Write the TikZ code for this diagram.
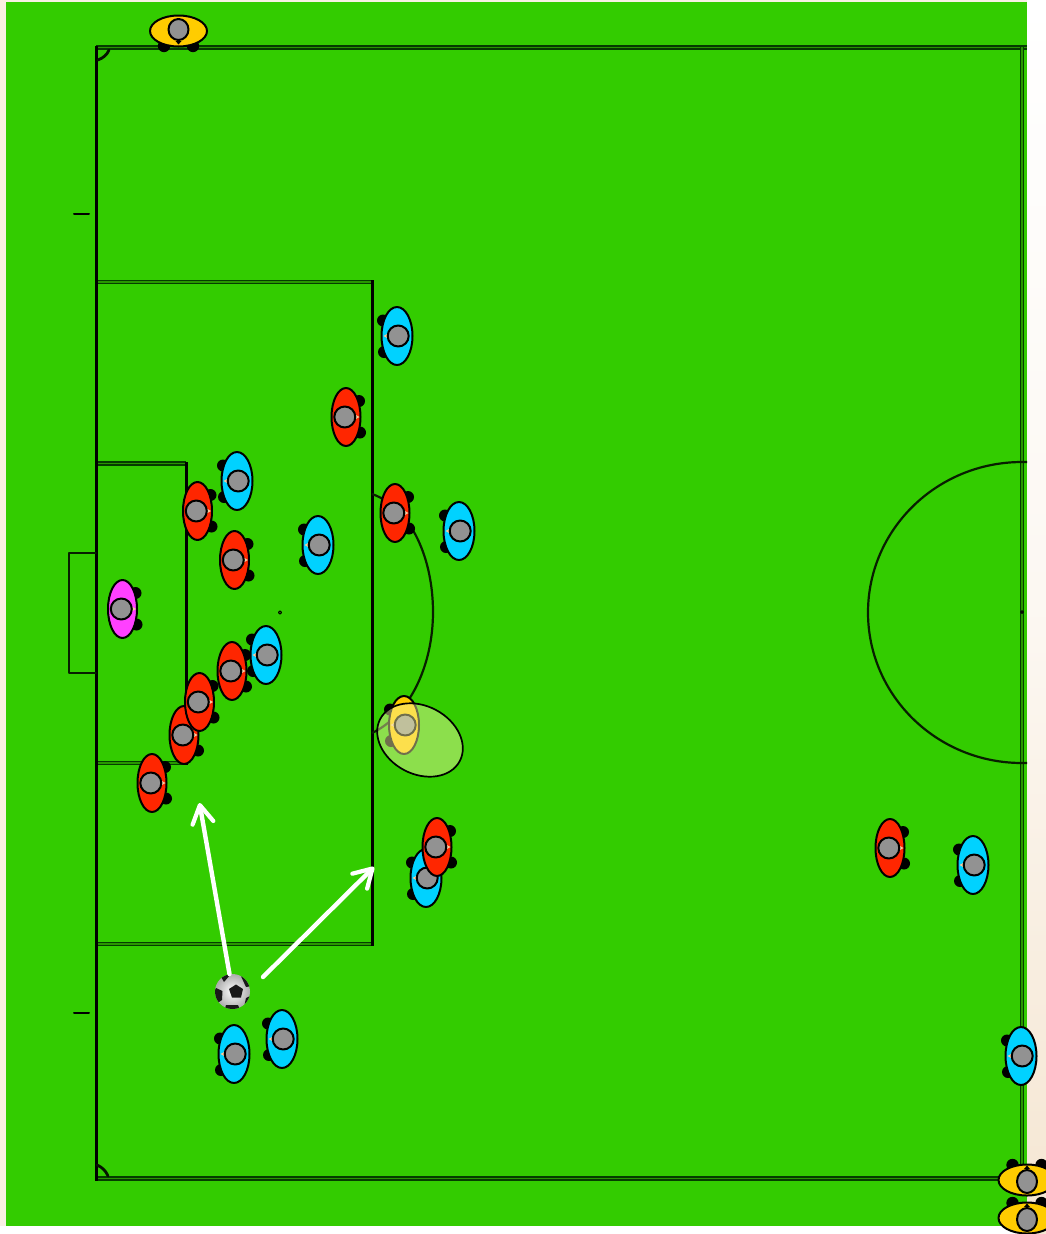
\documentclass[tikz,border=0pt]{standalone}
\usetikzlibrary{arrows.meta}
\definecolor{pitch}{RGB}{51,204,0}
\definecolor{lineout}{RGB}{5,60,0}
\definecolor{linein}{RGB}{40,150,0}
\definecolor{kitred}{RGB}{255,38,0}
\definecolor{kitblue}{RGB}{0,210,255}
\definecolor{kitpink}{RGB}{255,64,255}
\definecolor{kityellow}{RGB}{255,204,0}
\definecolor{head}{RGB}{146,146,146}
\definecolor{cream}{RGB}{245,230,210}
\definecolor{glow}{RGB}{249,248,169}
\definecolor{tick}{RGB}{250,205,160}
\tikzset{
  markline/.style={line width=1.6pt,line cap=butt,draw=lineout,double=linein,double distance=1.5pt},
  thickline/.style={line width=3pt,line cap=butt,draw=black},
  roughline/.style={line width=2.2pt,line cap=butt,draw=black!85!pitch},
  cornerline/.style={line width=2.8pt,draw=black!90!pitch},
  kitline/.style={line width=2pt},
  shot/.style={line width=4.4pt,white,line cap=round,-{Straight Barb[length=18pt,width=21pt,line width=4.2pt,round]}}
}
% player: x, y, rotation, kit colour, half width
\newcommand{\player}[5]{
  \begin{scope}[shift={(#1,#2)},rotate=#3]
    \fill[black] (13,-16) circle (6);
    \fill[black] (14,15.5) circle (6);
    \draw[kitline,fill=#4] (0,0) ellipse (#5 and 29);
    \fill[tick] (8.5,-2.8) -- (13.5,0) -- (8.5,2.8) -- cycle;
    \draw[kitline,fill=head] (-1.2,0) circle (10.5);
  \end{scope}
}
% player on the touchline: x, y, rotation, length of the head
\newcommand{\linesman}[4]{
  \begin{scope}[shift={(#1,#2)},rotate=#3]
    \fill[black] (15,-14.5) circle (6.2);
    \fill[black] (15,14.5) circle (6.2);
    \draw[kitline,fill=kityellow] (0,0) ellipse (15.5 and 28.5);
    \fill[black] (#4-.5,-3) -- (#4+3,0) -- (#4-.5,3) -- cycle;
    \draw[kitline,fill=head] (-1.5,0) ellipse (#4 and 10);
  \end{scope}
}
\begin{document}
\begin{tikzpicture}[line cap=round,line join=round,>=stealth,x=1pt,y=-1pt]
	\useasboundingbox (0,0) rectangle (1046,1234);
	\shade[top color=white,bottom color=cream,middle color=white!70!cream] (1027,0) rectangle (1046,1234);
	\fill[cream!60!white] (0,0) rectangle (1027,2);
	\fill[cream!60!white] (0,0) rectangle (6,1226);
	\fill[pitch] (6,2) rectangle (1027,1226);
	% lines of the field
	\draw[markline] (96,47.5) -- (1027,47.5);
	\draw[markline] (96,1178.5) -- (1022,1178.5);
	\draw[markline] (1022,47) -- (1022,1180);
	\draw[markline] (96,282) -- (372,282);
	\draw[markline] (96,944) -- (372,944);
	\draw[markline] (96,463.5) -- (186,463.5);
	\draw[markline] (96,763) -- (186,763);
	\draw[thickline] (96,46) -- (96,1180.5);
	\draw[thickline] (372,280) -- (372,946);
	\draw[thickline] (186,462) -- (186,765);
	\draw[line width=1.7pt,draw=black!85!pitch] (96,553.3) -- (69.3,553.3) -- (69.3,673) -- (96,673);
	\draw[line width=2pt] (74,213.5) -- (89,213.5);
	\draw[line width=2pt] (74,1013) -- (89,1013);
	\draw[cornerline] (98,60) .. controls (103,58) and (107,55) .. (109,50);
	\draw[cornerline] (108,1176) .. controls (106,1171) and (102,1167) .. (97,1165);
	\draw[roughline] (372,494) .. controls (412,508) and (433,560) .. (433,612) .. controls (433,665) and (410,715) .. (372,733);
	\draw[roughline] (1027,462) -- (1022,462) arc (-90:-270:154 and 150.5) -- (1027,763);
	\draw[line width=1pt] (280,612.5) circle (1.6);
	\draw[line width=1pt] (1022,612) circle (1.4);
	% players
	\linesman{178.5}{31}{-90}{10.5}
	\player{397}{336}{180}{kitblue}{15.5}
	\player{346}{417}{0}{kitred}{14.5}
	\player{237}{481}{180}{kitblue}{15.5}
	\player{197.5}{511}{0}{kitred}{14.5}
	\player{395}{513}{0}{kitred}{14.5}
	\player{459}{531}{180}{kitblue}{15.5}
	\player{234.5}{560}{0}{kitred}{14.5}
	\player{318}{545}{180}{kitblue}{15.5}
	\player{122.5}{609}{0}{kitpink}{14.5}
	\player{266}{655}{180}{kitblue}{15.5}
	\player{232}{671}{0}{kitred}{14.5}
	\player{184}{735}{0}{kitred}{14.5}
	\player{199.5}{702}{0}{kitred}{14.5}
	\player{152}{783}{0}{kitred}{14.5}
	\player{404}{725}{180}{kityellow}{15}
	\player{426}{878}{180}{kitblue}{15.5}
	\player{437}{847}{0}{kitred}{14.5}
	\player{890}{848}{0}{kitred}{14.5}
	\player{973}{865}{180}{kitblue}{15.5}
	\player{234}{1054}{180}{kitblue}{15.5}
	\player{282}{1039}{180}{kitblue}{15.5}
	\player{1021}{1056}{180}{kitblue}{15.5}
	\linesman{1027}{1180}{90}{11.5}
	\linesman{1027}{1218}{90}{11.5}
	% highlight
	\fill[glow,opacity=.45,rotate around={-28:(420,740)}] (420,740) ellipse (45 and 34);
	\draw[line width=1.7pt,rotate around={-28:(420,740)}] (420,740) ellipse (45 and 34);
	% ball
	\coordinate (ball) at (232.5,991.5);
	\begin{scope}
		\clip (ball) circle (17.5);
		\shade[inner color=white,outer color=black!35] (ball) circle (19);
		\fill[black!90] (236,984.5) -- (243,989) -- (241,997.5) -- (232,997.5) -- (229,989) -- cycle;
		\fill[black!90] (216,988) -- (222.5,991) -- (222,1000) -- (216,1004) -- (212,997) -- cycle;
		\fill[black!90] (240,974) -- (247,974) -- (252,986) -- (246,987) -- cycle;
		\fill[black!90] (246,998) -- (252,995) -- (251,1008) -- (244,1007) -- cycle;
		\fill[black!90] (226,1005) -- (238,1005) -- (241,1012) -- (224,1012) -- cycle;
		\fill[black!90] (220,975) -- (230,975) -- (224,982) -- cycle;
	\end{scope}
	% passes
	\coordinate (passa) at (229.5,974);
	\coordinate (passb) at (199.5,803);
	\coordinate (passc) at (263,977);
	\coordinate (passd) at (374,867);
	\draw[shot] (passa) -- (passb);
	\draw[shot] (passc) -- (passd);
\end{tikzpicture}
\end{document}
